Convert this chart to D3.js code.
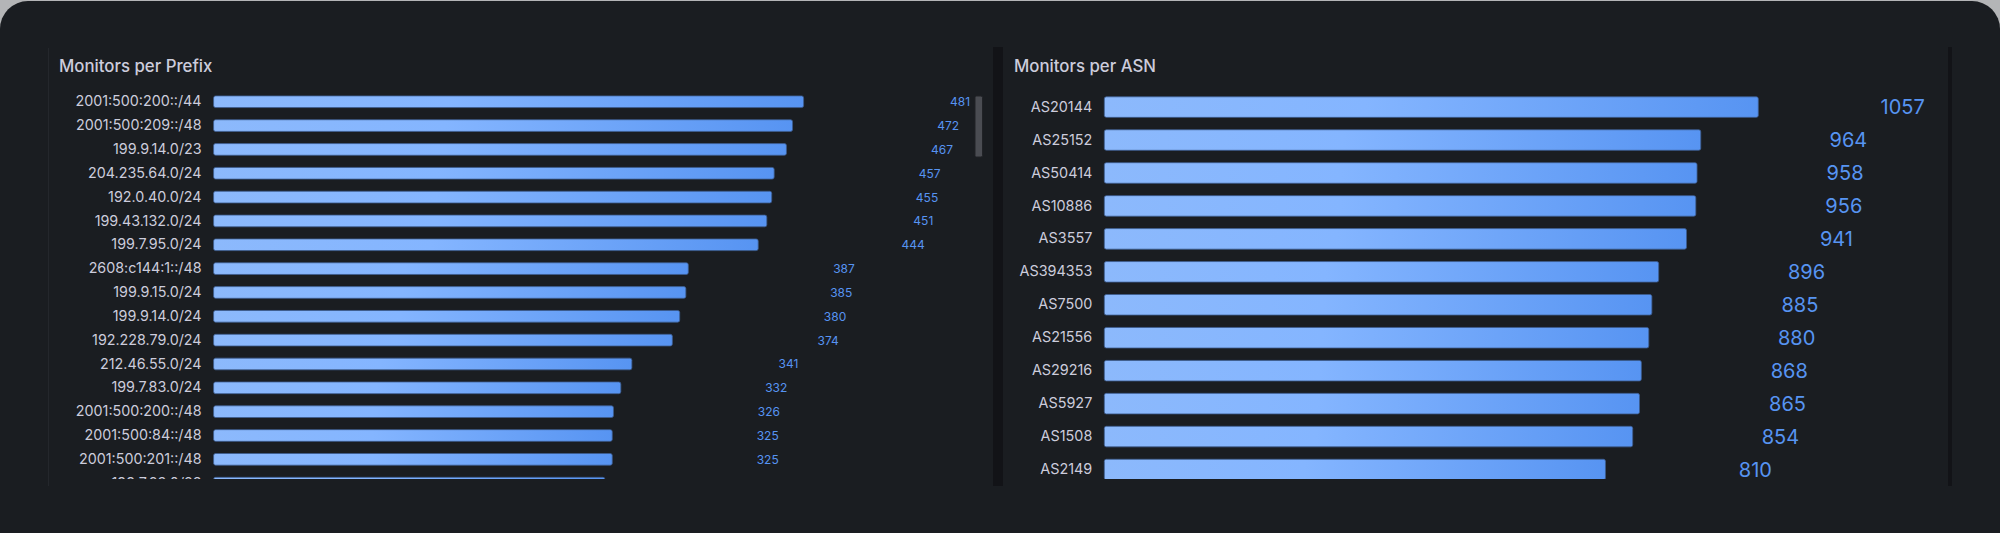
<!DOCTYPE html>
<html>
<head>
<meta charset="utf-8">
<script src="https://cdn.jsdelivr.net/npm/d3@7.9.0/dist/d3.min.js"></script>
<style>
  html, body { margin: 0; padding: 0; background: #b4b5b7; }
  svg { display: block; font-family: Inter, 'Noto Sans', sans-serif; }
</style>
</head>
<body>
<svg id="chart" width="2000" height="533"></svg>
<script>
// --- data
const prefixLabels = [
  '2001:500:200::/44', '2001:500:209::/48', '199.9.14.0/23', '204.235.64.0/24',
  '192.0.40.0/24', '199.43.132.0/24', '199.7.95.0/24', '2608:c144:1::/48',
  '199.9.15.0/24', '199.9.14.0/24', '192.228.79.0/24', '212.46.55.0/24',
  '199.7.83.0/24', '2001:500:200::/48', '2001:500:84::/48', '2001:500:201::/48',
  '199.7.83.0/23'
];
const prefixValues = [481, 472, 467, 457, 455, 451, 444, 387, 385, 380, 374, 341, 332, 326, 325, 325, 319];

const asnLabels = [
  'AS20144', 'AS25152', 'AS50414', 'AS10886', 'AS3557', 'AS394353',
  'AS7500', 'AS21556', 'AS29216', 'AS5927', 'AS1508', 'AS2149'
];
const asnValues = [1057, 964, 958, 956, 941, 896, 885, 880, 868, 865, 854, 810];

const svg = d3.select('#chart');
const W = 2000, H = 533;

// card background
svg.append('rect')
  .attr('x', 0).attr('y', 1)
  .attr('width', W).attr('height', H + 30)
  .attr('rx', 28)
  .attr('fill', '#1a1d21');

// gradient used by every bar (light on the left, grafana blue at the end)
const defs = svg.append('defs');
const grad = defs.append('linearGradient').attr('id', 'barGrad');
grad.append('stop').attr('offset', '0%').attr('stop-color', '#8cb9fc');
grad.append('stop').attr('offset', '40%').attr('stop-color', '#84b5ff');
grad.append('stop').attr('offset', '100%').attr('stop-color', '#5794f2');

// clip for the scrolling list in the left panel
defs.append('clipPath').attr('id', 'clipLeft')
  .append('rect').attr('x', 48).attr('y', 85).attr('width', 945).attr('height', 394);
defs.append('clipPath').attr('id', 'clipRight')
  .append('rect').attr('x', 1003).attr('y', 85).attr('width', 945).attr('height', 394);

// panel frames
svg.append('rect').attr('x', 48).attr('y', 48).attr('width', 1).attr('height', 438).attr('fill', '#24272c');
svg.append('rect').attr('x', 993).attr('y', 47).attr('width', 10).attr('height', 439).attr('fill', '#121317');
svg.append('rect').attr('x', 1948).attr('y', 47).attr('width', 4).attr('height', 439).attr('fill', '#121317');

function drawPanel(cfg) {
  const g = svg.append('g');

  g.append('text')
    .attr('x', cfg.titleX).attr('y', 72)
    .attr('fill', '#ccccdc')
    .style('font-size', '16.8px')
    .style('font-weight', 500)
    .text(cfg.title);

  const body = g.append('g').attr('clip-path', `url(#${cfg.clip})`);

  const n = cfg.labels.length;
  const y = d3.scaleBand()
    .domain(cfg.labels)
    .range([cfg.top, cfg.top + cfg.step * n - cfg.step * cfg.pad])
    .paddingInner(cfg.pad)
    .paddingOuter(0);

  const x = d3.scaleLinear()
    .domain([0, d3.max(cfg.values)])
    .range([cfg.barStart, cfg.barStart + cfg.barWidth]);

  const rows = cfg.labels.map((label, i) => ({ label, value: cfg.values[i] }));

  // category labels through a left axis with no ticks
  const axis = body.append('g')
    .attr('transform', `translate(${cfg.barStart},0)`)
    .call(d3.axisLeft(y).tickSize(0).tickPadding(12));
  axis.select('.domain').remove();
  axis.selectAll('text')
    .attr('fill', '#ccccdc')
    .style('font-size', cfg.labelSize + 'px')
    .style('font-family', 'Inter, sans-serif');

  body.append('g').selectAll('rect')
    .data(rows)
    .join('rect')
    .attr('x', x(0))
    .attr('y', d => y(d.label))
    .attr('width', d => x(d.value) - x(0))
    .attr('height', y.bandwidth())
    .attr('rx', 2)
    .attr('fill', 'url(#barGrad)')
    .attr('stroke', '#3c5c8e')
    .attr('stroke-width', 0.8);

  body.append('g').selectAll('text')
    .data(rows)
    .join('text')
    .attr('x', d => x(d.value) + 166.5)
    .attr('y', d => y(d.label) + y.bandwidth() / 2)
    .attr('text-anchor', 'end')
    .attr('dominant-baseline', 'central')
    .attr('fill', '#5794f2')
    .style('font-size', cfg.valueSize + 'px')
    .text(d => d.value);

  return g;
}

drawPanel({
  title: 'Monitors per Prefix', titleX: 59, clip: 'clipLeft',
  labels: prefixLabels, values: prefixValues,
  top: 95.9, step: 23.84, pad: 0.51,
  barStart: 213.6, barWidth: 590,
  labelSize: 14.3, valueSize: 12
});

drawPanel({
  title: 'Monitors per ASN', titleX: 1014, clip: 'clipRight',
  labels: asnLabels, values: asnValues,
  top: 96.8, step: 32.95, pad: 0.376,
  barStart: 1104.3, barWidth: 654,
  labelSize: 14.4, valueSize: 20
});

// scrollbar thumb in the left list
svg.append('rect')
  .attr('x', 975).attr('y', 96)
  .attr('width', 7.5).attr('height', 61)
  .attr('rx', 1.5)
  .attr('fill', '#4a4c52')
  .attr('stroke', '#202226')
  .attr('stroke-width', 1);
</script>
</body>
</html>
